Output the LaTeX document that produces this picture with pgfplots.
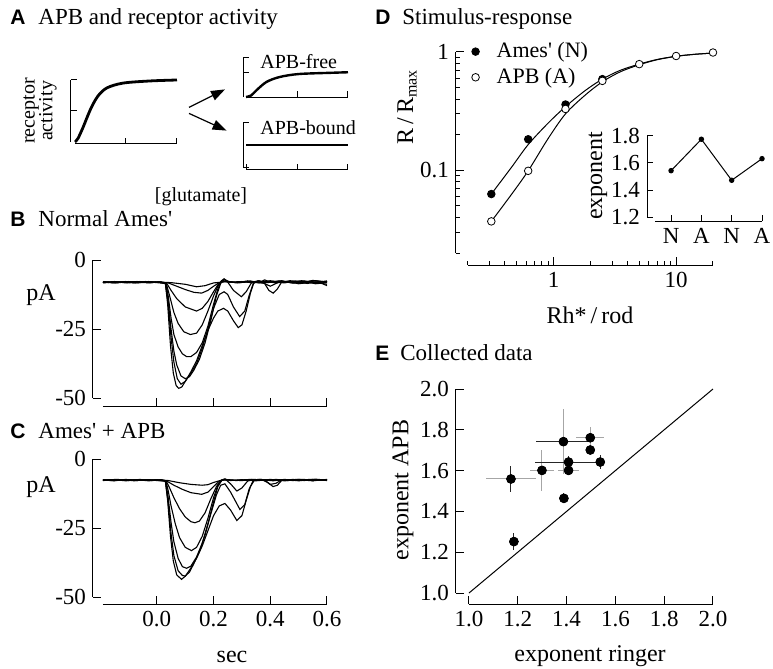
\documentclass[border=0pt]{standalone}
\usepackage{fontspec}
\setmainfont{Liberation Serif}
\newfontfamily\panelfont{Liberation Sans}
\usepackage{pgfplots}
\pgfplotsset{compat=1.18}
\usetikzlibrary{arrows.meta}
\newcommand\plabel[1]{{\panelfont\bfseries\fontsize{10.5}{12}\selectfont #1}}
\newcommand\ttl{\fontsize{11.5}{13}\selectfont}
\newcommand\lab{\fontsize{12}{14}\selectfont}
\newcommand\q{\textquotesingle}
\newcommand\m[1]{\mbox{#1}}
\pgfplotsset{
  igor/.style={
    scale only axis, axis lines=left, axis line style={-, line width=0.5pt},
    tick align=inside, tick style={line width=0.5pt, black},
    major tick length=4pt, minor tick length=2pt,
    enlargelimits=false, clip=false,
    tick label style={font=\fontsize{11.5}{13}\selectfont},
  },
  trace/.style={black, line width=0.55pt},
}
\begin{document}
\begin{tikzpicture}
\path[use as bounding box] (0,0) rectangle (386.5pt,-334.5pt);
% ---------- titles
\node[anchor=base west, inner sep=0] at (5pt,-12.5pt) {\plabel{A}};
\node[anchor=base west, inner sep=0, font=\ttl] at (19pt,-12.5pt) {APB and receptor activity};
\node[anchor=base west, inner sep=0] at (5pt,-113.5pt) {\plabel{B}};
\node[anchor=base west, inner sep=0, font=\ttl] at (19pt,-113.5pt) {Normal Ames\q};
\node[anchor=base west, inner sep=0] at (5pt,-219pt) {\plabel{C}};
\node[anchor=base west, inner sep=0, font=\ttl] at (19pt,-219pt) {Ames\q{} + APB};
\node[anchor=base west, inner sep=0] at (187.5pt,-12.5pt) {\plabel{D}};
\node[anchor=base west, inner sep=0, font=\ttl] at (201pt,-12.5pt) {Stimulus-response};
\node[anchor=base west, inner sep=0] at (187.5pt,-180pt) {\plabel{E}};
\node[anchor=base west, inner sep=0, font=\ttl] at (200pt,-180pt) {Collected data};

% ---------- Panel A main
\begin{axis}[igor, at={(37.5pt,-71pt)}, anchor=south west, width=51pt, height=31pt,
  xmin=0, xmax=1, ymin=0, ymax=1, axis y line shift=2pt, axis x line shift=1pt,
  xtick={0.5,1}, ytick={0.5,1}, xticklabels={}, yticklabels={}, major tick length=3pt]
\addplot[black, line width=1.4pt, smooth] coordinates {(0,0) (0.03,0.06) (0.08,0.24) (0.15,0.52) (0.22,0.73) (0.31,0.87) (0.47,0.95) (0.74,0.985) (1,1)};
\end{axis}
\node[rotate=90, align=center, font=\fontsize{10}{8.8}\selectfont, inner sep=0] at (20pt,-55.5pt) {receptor\\activity};
\node[font=\fontsize{10}{12}\selectfont, inner sep=0] at (100.5pt,-98.5pt) {[glutamate]};
\draw[line width=0.6pt, -{Triangle[length=7pt,width=5pt]}] (94.5pt,-53.7pt) -- (112.5pt,-44.7pt);
\draw[line width=0.6pt, -{Triangle[length=7pt,width=5pt]}] (94.5pt,-56.7pt) -- (113.3pt,-65.3pt);

% APB-free
\begin{axis}[igor, at={(123pt,-48.5pt)}, anchor=south west, width=51pt, height=20pt,
  xmin=0, xmax=1, ymin=0, ymax=1.6, axis y line shift=1.5pt,
  xtick={0.5,1}, ytick={1,1.6}, xticklabels={}, yticklabels={}, major tick length=3pt]
\addplot[black, line width=1.2pt, smooth] coordinates {(0,0) (0.05,0.06) (0.1,0.26) (0.2,0.6) (0.33,0.8) (0.52,0.92) (0.85,0.97) (1,0.99)};
\end{axis}
\node[anchor=west, inner sep=0, font=\fontsize{10}{12}\selectfont] at (130pt,-31pt) {APB-free};
% APB-bound
\begin{axis}[igor, at={(123pt,-84pt)}, anchor=south west, width=51pt, height=22.5pt,
  xmin=0, xmax=1, ymin=0, ymax=1.6, axis y line shift=1.5pt, axis x line shift=1pt,
  xtick={0,0.5,1}, ytick={0,1.6}, xticklabels={}, yticklabels={}, major tick length=3pt]
\addplot[black, line width=1.2pt] coordinates {(0,0.82) (1,0.82)};
\end{axis}
\node[anchor=west, inner sep=0, font=\fontsize{10}{12}\selectfont] at (130pt,-64pt) {APB-bound};

% ---------- Panel B
\begin{axis}[igor, at={(51.5pt,-199pt)}, anchor=south west, width=112pt, height=69pt,
  xmin=-0.19, xmax=0.6, ymin=-50, ymax=0, axis x line shift=4pt, axis y line shift=5pt,
  xtick={0,0.2,0.4,0.6}, xticklabels={}, ytick={-50,-25,0}, yticklabels={\m{-50},\m{-25},\m{0}}]
\addplot[trace] coordinates {(-0.19,-8.0)(-0.15,-8.3)(-0.11,-7.8)(-0.07,-8.2)(-0.03,-7.9)(0.01,-8.1)(0.030,-8.5)(0.038,-16)(0.048,-31)(0.058,-41)(0.068,-45.5)(0.077,-46.5)(0.088,-46)(0.10,-44)(0.12,-40.5)(0.14,-36.5)(0.16,-31)(0.18,-25.5)(0.20,-21)(0.215,-18.5)(0.235,-17.5)(0.25,-18.5)(0.27,-22)(0.287,-24.5)(0.30,-23.5)(0.315,-18.5)(0.33,-12)(0.342,-8.3)(0.36,-7.6)(0.38,-8.5)(0.395,-11)(0.41,-12)(0.425,-10.5)(0.44,-8)(0.47,-7.5)(0.51,-8.1)(0.55,-7.4)(0.6,-8.0)};
\addplot[trace] coordinates {(-0.19,-8.3)(-0.14,-7.9)(-0.10,-8.2)(-0.06,-7.8)(-0.02,-8.2)(0.015,-7.9)(0.030,-8.5)(0.04,-16)(0.05,-28)(0.06,-37)(0.072,-43)(0.085,-45)(0.10,-44)(0.12,-41)(0.14,-37.5)(0.16,-32)(0.18,-25)(0.20,-17.5)(0.22,-12.5)(0.237,-11.5)(0.25,-12.5)(0.27,-17)(0.292,-20.5)(0.31,-18.5)(0.325,-13)(0.34,-8.5)(0.355,-7.6)(0.375,-8.3)(0.40,-9.5)(0.42,-8.5)(0.44,-7.6)(0.48,-8.3)(0.52,-7.6)(0.56,-8.4)(0.6,-7.7)};
\addplot[trace] coordinates {(-0.19,-7.8)(-0.16,-8.2)(-0.12,-7.9)(-0.08,-8.3)(-0.04,-7.8)(0.0,-8.2)(0.031,-8.5)(0.04,-15)(0.05,-25)(0.06,-33)(0.07,-38)(0.085,-42)(0.10,-43)(0.115,-42.3)(0.13,-40)(0.15,-36)(0.17,-30)(0.19,-22)(0.21,-13)(0.225,-8.5)(0.237,-7.0)(0.25,-8)(0.27,-11)(0.298,-13.3)(0.315,-11.5)(0.335,-8)(0.36,-7.5)(0.39,-8.2)(0.43,-7.6)(0.47,-8.2)(0.51,-7.5)(0.55,-8.2)(0.6,-7.6)};
\addplot[trace] coordinates {(-0.19,-8.1)(-0.15,-7.8)(-0.11,-8.3)(-0.07,-7.9)(-0.03,-8.3)(0.01,-7.9)(0.032,-8.5)(0.04,-13)(0.05,-21)(0.06,-27)(0.075,-31.5)(0.09,-34)(0.105,-35)(0.12,-35)(0.14,-33.5)(0.16,-30)(0.18,-24)(0.20,-16)(0.215,-10.5)(0.228,-7.5)(0.237,-6.8)(0.25,-7.8)(0.28,-8.2)(0.32,-7.7)(0.36,-8.3)(0.38,-7.2)(0.40,-8.0)(0.44,-7.5)(0.48,-8.4)(0.52,-7.8)(0.56,-8.6)(0.6,-8.2)};
\addplot[trace] coordinates {(-0.19,-7.9)(-0.15,-8.2)(-0.11,-8.0)(-0.07,-7.8)(-0.03,-8.2)(0.01,-8.0)(0.033,-8.5)(0.045,-13)(0.06,-19)(0.075,-23)(0.095,-26)(0.118,-27)(0.14,-26.5)(0.16,-23.5)(0.18,-18.5)(0.20,-13)(0.215,-9.5)(0.228,-7.5)(0.24,-7.2)(0.26,-8)(0.30,-7.8)(0.34,-8.3)(0.38,-7.7)(0.42,-8.3)(0.46,-7.8)(0.50,-8.6)(0.55,-8.0)(0.6,-8.8)};
\addplot[trace] coordinates {(-0.19,-8.2)(-0.15,-7.9)(-0.11,-8.1)(-0.07,-8.3)(-0.03,-7.8)(0.01,-8.1)(0.035,-8.5)(0.05,-11)(0.07,-14)(0.10,-17)(0.14,-18.5)(0.16,-17.5)(0.18,-15)(0.20,-11.5)(0.215,-9)(0.23,-7.6)(0.25,-7.9)(0.29,-8.3)(0.33,-7.6)(0.37,-8.4)(0.41,-7.7)(0.45,-8.3)(0.49,-7.6)(0.53,-8.5)(0.57,-7.9)(0.6,-9.3)};
\addplot[trace] coordinates {(-0.19,-7.9)(-0.14,-8.3)(-0.10,-7.8)(-0.06,-8.2)(-0.02,-8.0)(0.02,-8.1)(0.04,-8.3)(0.07,-9.5)(0.10,-10.7)(0.13,-11.7)(0.158,-12)(0.18,-11)(0.20,-9.5)(0.22,-8.2)(0.24,-7.8)(0.28,-8.2)(0.32,-7.6)(0.36,-8.2)(0.40,-7.5)(0.44,-8.2)(0.48,-7.7)(0.52,-8.3)(0.56,-7.5)(0.6,-8.0)};
\addplot[trace] coordinates {(-0.19,-8.0)(-0.15,-8.1)(-0.11,-7.9)(-0.07,-8.1)(-0.03,-8.0)(0.01,-8.0)(0.05,-8.2)(0.10,-8.8)(0.14,-9.7)(0.17,-9.3)(0.2,-8.3)(0.24,-7.9)(0.3,-8.1)(0.36,-7.8)(0.42,-8.1)(0.5,-7.7)(0.6,-8.1)};
\end{axis}
\node[font=\lab] at (20.5pt,-147.5pt) {pA};

% ---------- Panel C
\begin{axis}[igor, at={(51.5pt,-298.5pt)}, anchor=south west, width=112pt, height=69pt,
  xmin=-0.19, xmax=0.6, ymin=-50, ymax=0, axis x line shift=3.5pt, axis y line shift=5pt,
  xtick={0,0.2,0.4,0.6}, xticklabels={\m{0.0},\m{0.2},\m{0.4},\m{0.6}}, ytick={-50,-25,0}, yticklabels={\m{-50},\m{-25},\m{0}}]
\addplot[trace] coordinates {(-0.19,-7.6)(-0.15,-7.9)(-0.11,-7.4)(-0.07,-7.8)(-0.03,-7.5)(0.01,-7.7)(0.030,-8)(0.038,-15)(0.048,-28)(0.058,-37)(0.07,-42)(0.087,-43.6)(0.10,-42.5)(0.12,-39.5)(0.14,-36)(0.16,-31.5)(0.18,-26)(0.20,-20.5)(0.22,-17)(0.24,-16.1)(0.26,-18.5)(0.282,-22.3)(0.30,-20.5)(0.315,-15)(0.33,-10)(0.345,-7.5)(0.37,-7.4)(0.39,-8.5)(0.41,-10)(0.425,-9.5)(0.44,-7.8)(0.48,-7.4)(0.52,-7.8)(0.56,-7.3)(0.6,-7.7)};
\addplot[trace] coordinates {(-0.19,-7.8)(-0.14,-7.5)(-0.10,-7.8)(-0.06,-7.4)(-0.02,-7.8)(0.015,-7.5)(0.030,-8)(0.04,-16)(0.05,-27)(0.06,-35)(0.075,-40.5)(0.09,-42.2)(0.10,-42.4)(0.115,-41)(0.13,-38)(0.15,-33.5)(0.17,-27.5)(0.19,-20)(0.21,-13)(0.225,-9.5)(0.24,-9)(0.26,-12)(0.293,-18.3)(0.31,-16.5)(0.325,-11)(0.34,-7.8)(0.37,-7.5)(0.41,-7.9)(0.45,-7.4)(0.50,-7.9)(0.55,-7.4)(0.6,-7.8)};
\addplot[trace] coordinates {(-0.19,-7.5)(-0.16,-7.8)(-0.12,-7.5)(-0.08,-7.9)(-0.04,-7.5)(0.0,-7.8)(0.031,-8)(0.04,-14)(0.05,-23)(0.06,-30)(0.075,-36)(0.09,-39)(0.105,-39.6)(0.12,-38.8)(0.14,-35.5)(0.16,-30.5)(0.18,-23.5)(0.20,-15.5)(0.215,-10)(0.23,-7.6)(0.24,-7.2)(0.26,-9)(0.282,-11.6)(0.30,-10.5)(0.32,-8)(0.34,-7.5)(0.38,-7.8)(0.42,-7.4)(0.46,-7.8)(0.5,-7.4)(0.55,-7.8)(0.6,-7.5)};
\addplot[trace] coordinates {(-0.19,-7.7)(-0.15,-7.5)(-0.11,-7.9)(-0.07,-7.5)(-0.03,-7.9)(0.01,-7.6)(0.032,-8)(0.04,-11.5)(0.05,-17)(0.065,-23.5)(0.08,-28.5)(0.10,-32)(0.122,-33.2)(0.14,-32)(0.16,-28)(0.18,-21.5)(0.20,-14)(0.215,-9.5)(0.23,-7.5)(0.24,-7.3)(0.26,-7.8)(0.30,-7.5)(0.35,-7.9)(0.40,-7.4)(0.45,-7.9)(0.5,-7.5)(0.55,-7.9)(0.6,-7.4)};
\addplot[trace] coordinates {(-0.19,-7.6)(-0.15,-7.8)(-0.11,-7.5)(-0.07,-7.7)(-0.03,-7.6)(0.01,-7.8)(0.033,-8)(0.045,-10.5)(0.06,-14)(0.08,-18)(0.10,-21)(0.12,-22.7)(0.134,-23.1)(0.15,-22.5)(0.17,-19.5)(0.19,-14.5)(0.21,-10)(0.225,-7.8)(0.24,-7.4)(0.28,-7.7)(0.33,-7.4)(0.38,-7.8)(0.43,-7.5)(0.48,-7.8)(0.54,-7.4)(0.6,-7.7)};
\addplot[trace] coordinates {(-0.19,-7.6)(-0.14,-7.4)(-0.10,-7.7)(-0.06,-7.5)(-0.02,-7.7)(0.02,-7.6)(0.035,-8)(0.06,-9.5)(0.09,-11)(0.12,-12.2)(0.158,-12.8)(0.18,-12)(0.20,-10)(0.22,-8)(0.24,-7.5)(0.28,-7.8)(0.34,-7.4)(0.38,-7.6)(0.40,-9.2)(0.42,-8.8)(0.44,-7.6)(0.5,-7.5)(0.55,-7.8)(0.6,-7.5)};
\addplot[trace] coordinates {(-0.19,-7.5)(-0.15,-7.7)(-0.1,-7.5)(-0.05,-7.7)(0.0,-7.5)(0.04,-7.8)(0.08,-8.6)(0.12,-9.2)(0.16,-9.5)(0.18,-9.3)(0.2,-8.5)(0.23,-7.6)(0.3,-7.8)(0.36,-7.4)(0.42,-7.7)(0.5,-7.4)(0.6,-7.6)};
\end{axis}
\node[font=\lab] at (20.5pt,-243.5pt) {pA};
\node[font=\lab] at (116pt,-328.5pt) {sec};

% ---------- Panel D
\begin{axis}[igor, at={(234pt,-126.5pt)}, anchor=south west, width=122.5pt, height=100.5pt,
  xmode=log, ymode=log, xmin=0.2, xmax=20, ymin=0.02, ymax=1,
  axis x line shift=6pt, axis y line shift=6pt,
  xtick={1,10}, xticklabels={\m{1},\m{10}}, ytick={0.1,1}, yticklabels={\m{0.1},\m{1}},
  minor xtick={0.2,0.3,0.4,0.5,0.6,0.7,0.8,0.9,2,3,4,5,6,7,8,9,20},
  minor ytick={0.02,0.03,0.04,0.05,0.06,0.07,0.08,0.09,0.2,0.3,0.4,0.5,0.6,0.7,0.8,0.9},
  legend image code/.code={\path (0pt,0pt) (14pt,0pt); \draw[#1] plot coordinates {(4.25pt,0pt)};},
  legend style={at={(-0.007,0.938)}, anchor=west, draw=none, fill=none, inner sep=0pt,
    row sep=2.5pt, font=\fontsize{11}{12}\selectfont, nodes={inner sep=0.6pt}},
  legend cell align=left]
\addplot[black, line width=0.5pt, smooth, forget plot] coordinates {(0.31,0.063)(0.45,0.105)(0.62,0.165)(0.9,0.25)(1.25,0.345)(1.8,0.47)(2.5,0.59)(3.5,0.70)(5,0.79)(7,0.865)(10,0.92)(14,0.955)(20,0.98)};
\addplot[black, line width=0.5pt, smooth, forget plot] coordinates {(0.31,0.037)(0.45,0.062)(0.62,0.099)(0.9,0.185)(1.25,0.30)(1.8,0.43)(2.5,0.56)(3.5,0.68)(5,0.78)(7,0.86)(10,0.92)(14,0.955)(20,0.98)};
\addplot[only marks, mark=*, mark size=1.9pt, black] coordinates {(0.31,0.063)(0.62,0.183)(1.25,0.36)(2.5,0.59)};
\addplot[only marks, mark=*, mark size=1.9pt, draw=black, fill=white, mark options={line width=0.4pt}] coordinates {(0.31,0.037)(0.62,0.099)(1.25,0.33)(2.5,0.57)(5,0.79)(10,0.925)(20,0.99)};
\legend{Ames\q{} (N), APB (A)}
\end{axis}
\node[rotate=90, font=\lab] at (203.5pt,-53.5pt) {R\,/\,R\textsubscript{max}};
\node[font=\lab] at (295pt,-157.5pt) {Rh*\,/\,rod};

% inset
\begin{axis}[igor, at={(327.5pt,-108.5pt)}, anchor=south west, width=53.5pt, height=40.5pt,
  xmin=0.47, xmax=4, ymin=1.2, ymax=1.8, axis x line shift=2pt, axis y line shift=4pt,
  major tick length=3pt,
  xtick={1,2,3,4}, xticklabels={N,A,N,A}, ytick={1.2,1.4,1.6,1.8}, yticklabels={\m{1.2},\m{1.4},\m{1.6},\m{1.8}}]
\addplot[black, line width=0.5pt, mark=*, mark size=1.1pt] coordinates {(1,1.543)(2,1.776)(3,1.472)(4,1.632)};
\end{axis}
\node[rotate=90, font=\lab] at (299pt,-88pt) {exponent};

% ---------- Panel E
\begin{axis}[igor, at={(234.5pt,-296.5pt)}, anchor=south west, width=122pt, height=102pt,
  xmin=1, xmax=2, ymin=1, ymax=2, axis x line shift=5.5pt, axis y line shift=6.5pt,
  xtick={1,1.2,1.4,1.6,1.8,2}, xticklabels={\m{1.0},\m{1.2},\m{1.4},\m{1.6},\m{1.8},\m{2.0}},
  ytick={1,1.2,1.4,1.6,1.8,2}, yticklabels={\m{1.0},\m{1.2},\m{1.4},\m{1.6},\m{1.8},\m{2.0}}]
\addplot[black, line width=0.5pt] coordinates {(1,1)(2,2)};
% light x error bars
\addplot[only marks, mark=none, error bars/.cd, x dir=both, x explicit, error mark=none,
  error bar style={line width=0.5pt, black!35}] coordinates {
  (1.172,1.559) +- (0.104,0) (1.299,1.601) +- (0.05,0) (1.408,1.601) +- (0.043,0) (1.497,1.761) +- (0.057,0)};
% light y error bars
\addplot[only marks, mark=none, error bars/.cd, y dir=both, y explicit, error mark=none,
  error bar style={line width=0.5pt, black!35}] coordinates {
  (1.299,1.601) +- (0,0.1) (1.387,1.742) +- (0,0.16) (1.497,1.761) +- (0,0.053)};
% dark x error bars
\addplot[only marks, mark=none, error bars/.cd, x dir=both, x explicit, error mark=none,
  error bar style={line width=0.5pt, black!85}] coordinates {
  (1.184,1.252) +- (0.022,0) (1.387,1.742) +- (0.112,0) (1.389,1.464) +- (0.01,0)
  (1.408,1.642) +- (0.137,0) (1.497,1.701) +- (0.012,0) (1.538,1.642) +- (0.012,0)};
% dark y error bars
\addplot[only marks, mark=none, error bars/.cd, y dir=both, y explicit, error mark=none,
  error bar style={line width=0.5pt, black!85}] coordinates {
  (1.172,1.559) +- (0,0.064) (1.184,1.252) +- (0,0.043) (1.389,1.464) +- (0,0.025)
  (1.408,1.642) +- (0,0.03) (1.408,1.601) +- (0,0.02) (1.497,1.701) +- (0,0.02) (1.538,1.642) +- (0,0.035)};
\addplot[only marks, mark=*, mark size=2.2pt, black] coordinates {
  (1.172,1.559)(1.184,1.252)(1.299,1.601)(1.387,1.742)(1.389,1.464)(1.408,1.642)(1.408,1.601)(1.497,1.761)(1.497,1.701)(1.538,1.642)};
\end{axis}
\node[rotate=90, font=\lab] at (201.5pt,-245pt) {exponent APB};
\node[font=\lab] at (295pt,-328pt) {exponent ringer};
\end{tikzpicture}
\end{document}
